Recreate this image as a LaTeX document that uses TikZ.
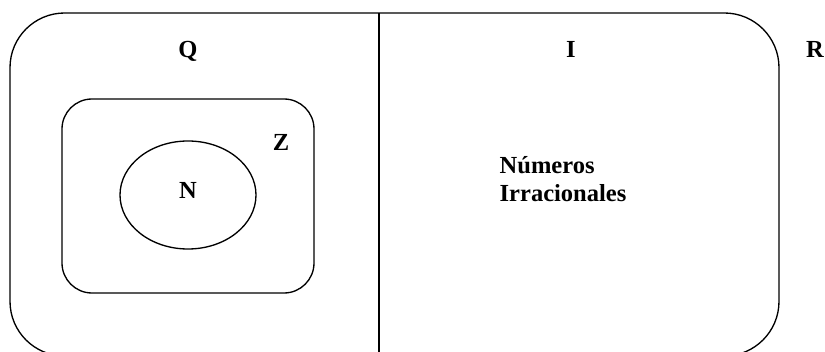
\documentclass[tikz,border=0pt]{standalone}
\usepackage{fontspec}
\setmainfont{Liberation Serif}
\begin{document}
\begin{tikzpicture}
		[x=0.75pt, y=-0.75pt, line width=1pt,
		setlabel/.style={font=\fontsize{18.4}{21.7}\selectfont\bfseries, inner sep=0pt, anchor=base}]
		\useasboundingbox (0,0) rectangle (825,352);
		\draw[rounded corners=41pt] (10,13) rectangle (779,356);
		\coordinate (top) at (379,13);
		\coordinate (bottom) at (379,356);
		\draw (top) -- (bottom);
		\draw[rounded corners=22.5pt] (62,99) rectangle (314,293);
		\draw (188,195) ellipse [x radius=51pt, y radius=40.5pt];
		\node[setlabel] (Q) at (188,58) {Q};
		\node[setlabel] (Z) at (281,151) {Z};
		\node[setlabel] (N) at (188,199) {N};
		\node[setlabel] (I) at (571,58) {I};
		\node[setlabel] (R) at (815,58) {R};
		\node[setlabel, anchor=base west, align=left] (irr) at (499,202) {Números\\Irracionales};
	\end{tikzpicture}
\end{document}
